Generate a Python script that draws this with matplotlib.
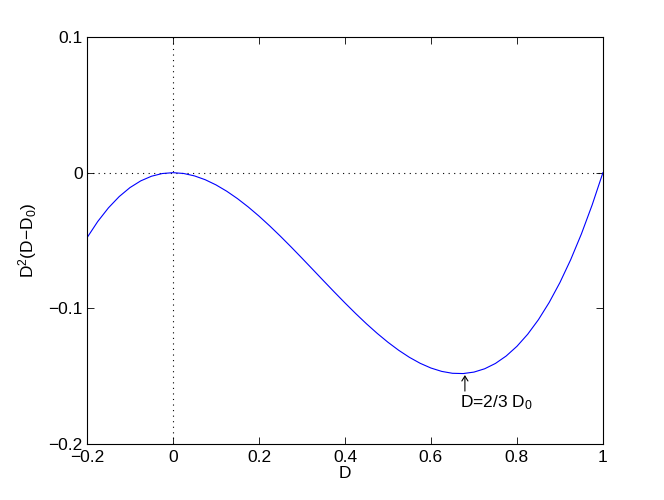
import matplotlib
matplotlib.use('Agg')
import matplotlib.pyplot as plt

# значения кривой D^2(D-D0) (шаг 0.025)
d_vals = [-0.2, -0.175, -0.15, -0.125, -0.1, -0.075, -0.05, -0.025, 0.0,
          0.025, 0.05, 0.075, 0.1, 0.125, 0.15, 0.175, 0.2, 0.225, 0.25,
          0.275, 0.3, 0.325, 0.35, 0.375, 0.4, 0.425, 0.45, 0.475, 0.5,
          0.525, 0.55, 0.575, 0.6, 0.625, 0.65, 0.675, 0.7, 0.725, 0.75,
          0.775, 0.8, 0.825, 0.85, 0.875, 0.9, 0.925, 0.95, 0.975, 1.0]
f_vals = [-0.048, -0.036, -0.0259, -0.0176, -0.011, -0.00605, -0.00263, -0.00064, 0.0,
          -0.00061, -0.00238, -0.0052, -0.009, -0.01367, -0.01913, -0.02527, -0.032, -0.03924, -0.04688,
          -0.05483, -0.063, -0.0713, -0.07963, -0.08789, -0.096, -0.10386, -0.11138, -0.11845, -0.125,
          -0.13092, -0.13613, -0.14052, -0.144, -0.14648, -0.14788, -0.14808, -0.147, -0.14455, -0.14063,
          -0.13514, -0.128, -0.11911, -0.10838, -0.0957, -0.081, -0.06417, -0.04513, -0.02377, 0.0]

x_ticks = [-0.2, 0, 0.2, 0.4, 0.6, 0.8, 1]
x_labels = ['\u22120.2', '0', '0.2', '0.4', '0.6', '0.8', '1']
y_ticks = [-0.2, -0.1, 0, 0.1]
y_labels = ['\u22120.2', '\u22120.1', '0', '0.1']

plt.rcParams['font.family'] = ['Liberation Sans', 'DejaVu Sans']
plt.rcParams['mathtext.fontset'] = 'custom'
plt.rcParams['mathtext.rm'] = 'Liberation Sans'
plt.rcParams['mathtext.it'] = 'Liberation Sans'

fig = plt.figure(figsize=(6.64, 5.0), dpi=100)
ax = fig.add_axes([0.131, 0.112, 0.777, 0.814])

# пунктирные оси через ноль
ax.plot([0, 0], [-0.2, 0.1], color='black', linestyle=(0, (1, 4)), linewidth=0.8)
ax.plot([-0.2, 1], [0, 0], color='black', linestyle=(0, (1, 4)), linewidth=0.8)

ax.plot(d_vals, f_vals, color='blue', linewidth=0.8)

# подпись минимума: стрелка вверх и текст
ax.annotate('', xy=(0.679, -0.1492), xytext=(0.679, -0.161),
            arrowprops=dict(arrowstyle='->,head_length=0.35,head_width=0.22',
                            color='black', linewidth=0.8, shrinkA=0, shrinkB=0))
ax.text(2/3, -0.1625, 'D=2/3 D$_0$', ha='left', va='top', fontsize=12.5)

ax.set_xlim(-0.2, 1)
ax.set_ylim(-0.2, 0.1)
ax.set_xticks(x_ticks)
ax.set_xticklabels(x_labels)
ax.set_yticks(y_ticks)
ax.set_yticklabels(y_labels)
ax.tick_params(direction='in', top=True, right=True, labelsize=12.5, length=5, width=0.6)
ax.tick_params(axis='x', pad=4)
ax.tick_params(axis='y', pad=3)
for s in ax.spines.values():
    s.set_linewidth(0.8)

ax.set_xlabel('D', fontsize=12.5, labelpad=1)
ax.set_ylabel('D$^2$(D\u2212D$_0$)', fontsize=12.5, labelpad=7)

fig.savefig('out.png', dpi=100)
